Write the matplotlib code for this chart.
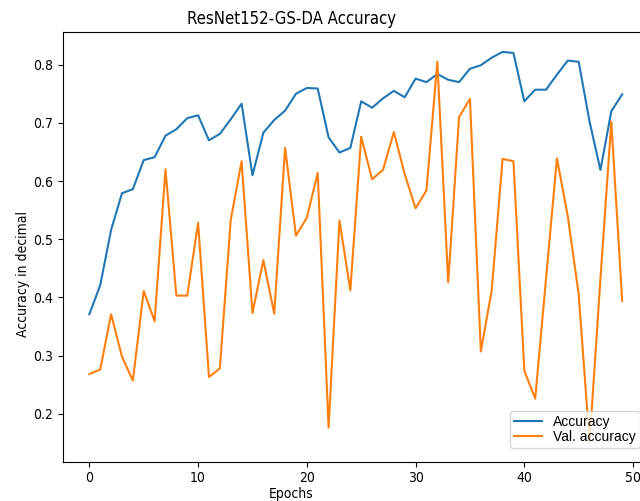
"""ResNet152-GS-DA training curves: accuracy vs. validation accuracy."""

import matplotlib

matplotlib.use("Agg")

import matplotlib.pyplot as plt  # noqa: E402
from matplotlib import font_manager  # noqa: E402

# ---------------------------------------------------------------------------
# Data
# ---------------------------------------------------------------------------

epochs = list(range(50))

accuracy = [
    0.371, 0.421, 0.516, 0.579, 0.586, 0.636, 0.641, 0.678, 0.689, 0.708,
    0.713, 0.670, 0.681, 0.706, 0.733, 0.610, 0.683, 0.705, 0.721, 0.750,
    0.760, 0.759, 0.675, 0.649, 0.657, 0.737, 0.726, 0.742, 0.755, 0.744,
    0.776, 0.770, 0.784, 0.774, 0.770, 0.793, 0.799, 0.812, 0.822, 0.820,
    0.737, 0.757, 0.757, 0.783, 0.807, 0.805, 0.702, 0.619, 0.720, 0.749,
]

val_accuracy = [
    0.268, 0.276, 0.371, 0.298, 0.257, 0.411, 0.359, 0.620, 0.403, 0.403,
    0.528, 0.263, 0.278, 0.533, 0.634, 0.373, 0.464, 0.372, 0.657, 0.506,
    0.537, 0.614, 0.176, 0.532, 0.412, 0.676, 0.603, 0.619, 0.684, 0.612,
    0.553, 0.584, 0.805, 0.426, 0.710, 0.741, 0.307, 0.412, 0.638, 0.634,
    0.274, 0.226, 0.433, 0.639, 0.539, 0.405, 0.151, 0.432, 0.702, 0.394,
]

title = "ResNet152-GS-DA Accuracy"
x_label = "Epochs"
y_label = "Accuracy in decimal"
legend_labels = ["Accuracy", "Val. accuracy"]

# ---------------------------------------------------------------------------
# Fonts: axis text in the reference is narrow, the legend is a regular face
# ---------------------------------------------------------------------------

_names = {f.name for f in font_manager.fontManager.ttflist}
if "Liberation Sans Narrow" in _names:
    plt.rcParams["font.family"] = ["Liberation Sans Narrow", "DejaVu Sans"]
else:
    plt.rcParams["font.family"] = ["DejaVu Sans"]
    plt.rcParams["font.stretch"] = "condensed"
legend_family = ["Liberation Sans", "DejaVu Sans"]

# ---------------------------------------------------------------------------
# Plot
# ---------------------------------------------------------------------------

fig = plt.figure(figsize=(6.4, 5.01), dpi=100)
# the reference is cropped on the right, so the axes run past the figure edge
ax = fig.add_axes([0.098, 0.0784, 0.9158, 0.857])

ax.plot(epochs, accuracy, label=legend_labels[0])
ax.plot(epochs, val_accuracy, label=legend_labels[1])

ax.set_title(title, fontsize=12, x=0.39)
ax.set_xlabel(x_label, fontsize=10, labelpad=1)
ax.set_ylabel(y_label, fontsize=10, labelpad=2)
ax.xaxis.label.set_x(0.39)
ax.yaxis.label.set_y(0.437)
ax.tick_params(labelsize=10)

ax.legend(
    loc="lower right",
    bbox_to_anchor=(0.985, 0.032),
    borderaxespad=0,
    borderpad=0.3,
    labelspacing=0.05,
    prop={"family": legend_family, "size": 10},
)

fig.savefig("out.png", dpi=100)
